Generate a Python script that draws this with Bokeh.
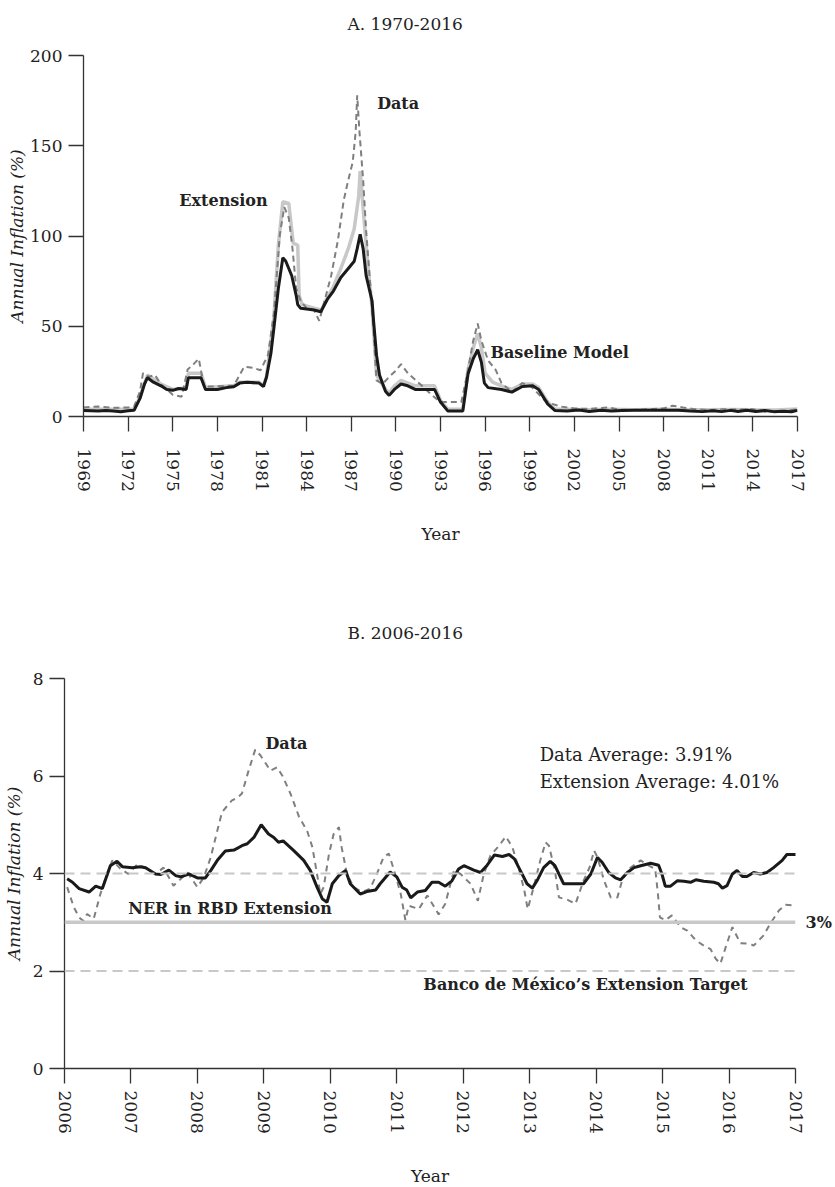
import numpy as np
from bokeh.plotting import figure
from bokeh.models import Label, Span, FixedTicker, Range1d, LinearAxis, Title
from bokeh.embed import file_html
from bokeh.resources import INLINE

FONT = "DejaVu Serif"
TXT = "#222222"
AXC = "#333333"
BLACK = "#1a1a1a"
LIGHT = "#c8c8c8"
DASHC = "#7f7f7f"

# ---------------- Panel A data (1970-2016) ----------------
a_ticks_x = [1969, 1972, 1975, 1978, 1981, 1984, 1987, 1990, 1993, 1996, 1999, 2002, 2005, 2008, 2011, 2014, 2017]
a_ticks_y = [0, 50, 100, 150, 200]

base_t = [1969.0, 1970.0, 1970.5, 1971.0, 1971.5, 1972.0, 1972.4, 1972.8, 1973.1, 1973.3, 1973.7, 1974.2,
          1974.6, 1975.0, 1975.4, 1975.9, 1976.05, 1976.9, 1977.2, 1978.0, 1978.6, 1979.1, 1979.5, 1980.0,
          1980.8, 1981.1, 1981.3, 1981.6, 1981.8, 1982.1, 1982.4, 1982.6, 1983.0, 1983.3, 1983.4, 1983.6,
          1984.0, 1984.5, 1984.95, 1985.4, 1985.8, 1986.3, 1986.8, 1987.2, 1987.4, 1987.6, 1987.8, 1988.0,
          1988.4, 1988.5, 1988.7, 1988.9, 1989.3, 1989.55, 1989.9, 1990.35, 1990.8, 1991.3, 1992.6, 1993.0,
          1993.5, 1994.5, 1994.85, 1995.2, 1995.5, 1995.75, 1995.95, 1996.2, 1997.1, 1997.8, 1998.5, 1999.2,
          1999.6, 2000.2, 2000.7, 2001.5, 2002.3, 2003.0, 2003.8, 2004.5, 2005.2, 2006.0, 2007.0, 2008.0,
          2009.0, 2009.8, 2010.6, 2011.3, 2011.9, 2012.5, 2013.0, 2013.6, 2014.2, 2014.8, 2015.4, 2016.0,
          2016.6, 2017.0]
base_v = [3.3, 3.0, 3.3, 3.0, 2.6, 3.2, 3.4, 10, 18, 21.5, 19, 17,
          15, 14.5, 15.5, 15, 21.5, 21.5, 15, 15, 16, 16.5, 18.5, 19,
          18.5, 16.6, 21.7, 35, 49, 71, 88, 86, 78, 67, 62, 60,
          59.5, 59, 58, 65, 69.5, 77, 82, 86, 93, 101, 93, 78,
          64, 53, 34, 23, 14, 11.7, 15, 18, 17, 15, 15, 8,
          3, 3, 23.5, 32, 37, 30, 18.5, 16, 15, 13.5, 16.6, 17,
          15, 7, 3.3, 3.0, 3.6, 2.8, 3.4, 3.0, 3.3, 3.5, 3.5, 3.5,
          3.5, 3.0, 2.7, 3.2, 2.7, 3.4, 2.8, 3.5, 2.8, 3.3, 2.7, 2.9,
          2.6, 3.4]

ext_t = [1969.0, 1972.4, 1972.8, 1973.3, 1974.2, 1975.0, 1975.9, 1976.05, 1976.9, 1977.2, 1979.1, 1979.5,
         1980.8, 1981.1, 1981.3, 1981.8, 1982.1, 1982.4, 1982.8, 1983.1, 1983.4, 1983.5, 1983.7, 1984.5,
         1985.0, 1985.4, 1985.8, 1986.3, 1986.8, 1987.2, 1987.5, 1987.6, 1987.8, 1988.1, 1988.4, 1988.7,
         1989.3, 1989.55, 1989.9, 1990.35, 1991.3, 1992.6, 1993.0, 1993.5, 1994.5, 1994.85, 1995.2, 1995.5,
         1995.75, 1996.0, 1996.5, 1997.1, 1997.8, 1998.5, 1999.2, 1999.6, 2000.2, 2000.7, 2001.5, 2003.0,
         2004.5, 2006.0, 2008.0, 2009.5, 2011.0, 2012.5, 2014.0, 2015.5, 2017.0]
ext_v = [4, 4, 11, 23, 18, 15, 16, 24, 24, 16, 17, 19,
         19, 17, 22, 55, 95, 119, 118, 96, 95, 67, 62, 60,
         59, 66, 72, 82, 93, 104, 122, 136, 115, 86, 60, 23,
         15, 13, 17, 20, 17, 17, 9, 4, 4, 26, 38, 46,
         38, 24, 19, 17, 15, 18, 18, 16, 8, 4, 4, 3.8,
         4, 3.8, 4, 3.7, 3.8, 3.9, 3.7, 3.6, 4.2]

data_t = [1969.0, 1970.0, 1971.0, 1972.0, 1972.4, 1972.8, 1973.0, 1973.4, 1973.8, 1974.2, 1975.0, 1975.6,
          1976.0, 1976.4, 1976.75, 1977.1, 1977.8, 1978.5, 1979.1, 1979.8, 1980.4, 1980.9, 1981.4, 1981.8,
          1982.2, 1982.5, 1982.8, 1983.05, 1983.3, 1983.6, 1984.0, 1984.5, 1984.85, 1985.2, 1985.65, 1986.1,
          1986.5, 1986.8, 1987.1, 1987.3, 1987.4, 1987.55, 1987.8, 1988.0, 1988.25, 1988.5, 1988.7, 1989.1,
          1989.55, 1989.9, 1990.35, 1990.8, 1991.7, 1992.4, 1993.0, 1994.4, 1994.8, 1995.2, 1995.5, 1995.75,
          1996.2, 1996.7, 1997.1, 1997.8, 1998.5, 1999.1, 2000.0, 2000.5, 2001.1, 2002.0, 2003.0, 2004.3,
          2005.0, 2006.0, 2007.0, 2008.0, 2008.6, 2009.3, 2010.0, 2011.0, 2012.0, 2013.0, 2014.0, 2015.0,
          2016.0, 2017.0]
data_v = [5, 5.5, 4.8, 5, 5.5, 14, 24, 22, 23, 18, 12, 11,
          26, 29, 32, 16.6, 16.6, 17, 17, 27.5, 27, 25.6, 34, 57,
          101, 116, 110, 93, 71, 64, 60, 59, 53, 64, 78, 97.5,
          120, 131, 141, 158, 178, 158, 131, 103, 76, 48, 20, 18,
          22, 24.6, 29, 24, 17.4, 12, 8, 8, 23.5, 42, 51.5, 42,
          31, 26, 18.5, 13.5, 18.5, 16.6, 9, 7, 5.5, 4.5, 4.2, 5,
          3.8, 3.6, 4.0, 4.5, 6.0, 5.0, 4.2, 3.5, 4.0, 3.8, 4.0, 2.5,
          3.0, 4.0]

# ---------------- Panel B data (2006-2016) ----------------
b_ticks_x = list(range(2006, 2018))
b_ticks_y = [0, 2, 4, 6, 8]
target_band = [2, 4]
target_center = 3
target_label = {3: "3%"}

bext_t = [2006.04, 2006.12, 2006.22, 2006.37, 2006.47, 2006.57, 2006.69, 2006.79, 2006.87, 2007.02, 2007.14,
          2007.22, 2007.37, 2007.45, 2007.57, 2007.67, 2007.75, 2007.87, 2008.0, 2008.12, 2008.2, 2008.3,
          2008.42, 2008.55, 2008.67, 2008.75, 2008.85, 2008.96, 2009.07, 2009.15, 2009.22, 2009.29, 2009.45,
          2009.6, 2009.7, 2009.8, 2009.88, 2009.95, 2010.03, 2010.13, 2010.23, 2010.3, 2010.45, 2010.55,
          2010.68, 2010.75, 2010.9, 2011.0, 2011.08, 2011.15, 2011.21, 2011.31, 2011.43, 2011.53, 2011.63,
          2011.73, 2011.83, 2011.93, 2012.01, 2012.16, 2012.26, 2012.36, 2012.47, 2012.59, 2012.69, 2012.77,
          2012.86, 2012.96, 2013.04, 2013.11, 2013.21, 2013.31, 2013.38, 2013.51, 2013.61, 2013.81, 2013.92,
          2014.02, 2014.09, 2014.19, 2014.29, 2014.37, 2014.47, 2014.57, 2014.67, 2014.82, 2014.94, 2014.99,
          2015.04, 2015.12, 2015.22, 2015.32, 2015.42, 2015.5, 2015.62, 2015.77, 2015.84, 2015.9, 2015.97,
          2016.05, 2016.12, 2016.2, 2016.27, 2016.37, 2016.47, 2016.57, 2016.67, 2016.8, 2016.87, 2017.05]
bext_v = [3.89, 3.82, 3.69, 3.62, 3.74, 3.69, 4.16, 4.25, 4.14, 4.12, 4.14,
          4.12, 3.99, 3.98, 4.07, 3.96, 3.93, 3.99, 3.91, 3.91, 4.06, 4.27,
          4.46, 4.48, 4.57, 4.61, 4.74, 5.0, 4.81, 4.74, 4.64, 4.67, 4.47,
          4.27, 4.06, 3.72, 3.48, 3.41, 3.79, 3.96, 4.06, 3.79, 3.58, 3.63,
          3.66, 3.79, 4.03, 3.93, 3.72, 3.66, 3.5, 3.62, 3.65, 3.82, 3.82,
          3.74, 3.85, 4.09, 4.16, 4.07, 4.02, 4.17, 4.38, 4.35, 4.39, 4.3,
          4.06, 3.79, 3.7, 3.85, 4.12, 4.25, 4.16, 3.79, 3.79, 3.79, 3.99,
          4.33, 4.23, 4.02, 3.91, 3.87, 4.02, 4.12, 4.16, 4.21, 4.17, 3.99,
          3.74, 3.74, 3.85, 3.84, 3.82, 3.87, 3.84, 3.82, 3.79, 3.7, 3.75,
          3.99, 4.06, 3.94, 3.94, 4.02, 3.99, 4.02, 4.12, 4.27, 4.39, 4.39]

bdat_t = [2006.04, 2006.14, 2006.22, 2006.28, 2006.34, 2006.44, 2006.54, 2006.64, 2006.72, 2006.84, 2006.96,
          2007.09, 2007.22, 2007.37, 2007.49, 2007.64, 2007.75, 2007.85, 2008.0, 2008.1, 2008.2, 2008.3,
          2008.37, 2008.52, 2008.6, 2008.67, 2008.77, 2008.87, 2008.95, 2009.1, 2009.2, 2009.28, 2009.4,
          2009.53, 2009.65, 2009.73, 2009.8, 2009.85, 2009.9, 2009.98, 2010.05, 2010.13, 2010.17, 2010.25,
          2010.35, 2010.48, 2010.6, 2010.7, 2010.8, 2010.88, 2010.96, 2011.06, 2011.13, 2011.18, 2011.33,
          2011.46, 2011.63, 2011.73, 2011.86, 2011.96, 2012.11, 2012.22, 2012.31, 2012.41, 2012.54, 2012.64,
          2012.74, 2012.84, 2012.92, 2012.97, 2013.06, 2013.16, 2013.24, 2013.29, 2013.38, 2013.44, 2013.57,
          2013.69, 2013.81, 2013.9, 2013.97, 2014.02, 2014.12, 2014.22, 2014.32, 2014.39, 2014.49, 2014.67,
          2014.77, 2014.89, 2014.93, 2014.96, 2015.04, 2015.14, 2015.27, 2015.37, 2015.5, 2015.62, 2015.72,
          2015.8, 2015.87, 2015.95, 2016.05, 2016.17, 2016.32, 2016.37, 2016.52, 2016.62, 2016.75, 2016.85,
          2017.05]
bdat_v = [3.72, 3.31, 3.1, 3.03, 3.17, 3.07, 3.58, 3.99, 4.27, 4.1, 3.99,
          4.18, 4.12, 3.99, 4.12, 3.75, 3.89, 4.02, 3.72, 3.93, 4.33, 4.88,
          5.26, 5.5, 5.55, 5.64, 6.11, 6.54, 6.42, 6.11, 6.18, 6.0, 5.64,
          5.16, 4.88, 4.54, 3.99, 3.58, 3.72, 4.4, 4.81, 4.95, 4.54, 3.99,
          3.72, 3.62, 3.69, 3.99, 4.33, 4.41, 4.06, 3.58, 3.04, 3.34, 3.27,
          3.55, 3.16, 3.38, 4.06, 3.99, 3.79, 3.44, 3.99, 4.37, 4.57, 4.76,
          4.54, 4.09, 3.65, 3.27, 3.72, 4.27, 4.64, 4.57, 4.06, 3.51, 3.46,
          3.38, 3.85, 4.12, 4.47, 4.33, 3.85, 3.51, 3.51, 3.85, 4.09, 4.27,
          4.18, 4.09, 3.58, 3.1, 3.04, 3.14, 2.9, 2.83, 2.63, 2.52, 2.45,
          2.25, 2.15, 2.49, 2.9, 2.57, 2.56, 2.52, 2.73, 2.97, 3.24, 3.36,
          3.34]


def style_title(t, offset, standoff):
    t.align = "left"
    t.offset = offset
    t.standoff = standoff
    t.text_font = FONT
    t.text_font_size = "17px"
    t.text_font_style = "normal"
    t.text_color = TXT


def style(p, xticks, yticks, x_standoff, xlab_standoff, ylab_standoff):
    p.xgrid.visible = False
    p.ygrid.visible = False
    p.outline_line_color = None
    p.background_fill_color = "white"
    p.border_fill_color = "white"
    p.xaxis.ticker = FixedTicker(ticks=xticks)
    p.yaxis.ticker = FixedTicker(ticks=yticks)
    for ax in (p.xaxis[0], p.yaxis[0]):
        ax.axis_line_color = AXC
        ax.axis_line_width = 1.3
        ax.major_tick_line_color = AXC
        ax.major_tick_line_width = 1.3
        ax.major_tick_out = 15
        ax.major_tick_in = 0
        ax.minor_tick_out = 0
        ax.minor_tick_in = 0
        ax.major_label_text_font = FONT
        ax.major_label_text_font_size = "17px"
        ax.major_label_text_color = TXT
        ax.axis_label_text_font = FONT
        ax.axis_label_text_font_size = "17px"
        ax.axis_label_text_color = TXT
    p.yaxis.major_label_standoff = 6
    p.xaxis.major_label_standoff = x_standoff
    p.xaxis.major_label_orientation = "vertical"
    p.xaxis.axis_label = "Year"
    p.xaxis.axis_label_text_font_style = "normal"
    p.xaxis.axis_label_standoff = xlab_standoff
    p.yaxis.axis_label = "Annual Inflation (%)"
    p.yaxis.axis_label_text_font_style = "italic"
    p.yaxis.axis_label_standoff = ylab_standoff


def lab(p, x, y, text, size="16px", style_="bold", align="left"):
    p.add_layout(Label(x=x, y=y, text=text, text_font=FONT, text_font_size=size,
                       text_font_style=style_, text_color=TXT, text_align=align,
                       text_baseline="middle"))


# ---------------- Panel A ----------------
p1 = figure(title=None, frame_width=714, frame_height=361,
            min_border_left=83, min_border_right=30, min_border_top=55, min_border_bottom=162,
            x_range=Range1d(1969, 2017), y_range=Range1d(0, 200),
            output_backend="svg", toolbar_location=None)
style(p1, a_ticks_x, a_ticks_y, 17, 29, 0)
# spacer (nearest the frame) then the panel title above it
spacer = Title(text=" ", text_font=FONT, text_font_size="4px", standoff=15)
p1.add_layout(spacer, "above")
title_a = Title(text="A. 1970-2016")
style_title(title_a, 264, 0)
p1.add_layout(title_a, "above")

p1.line(ext_t, ext_v, line_color=LIGHT, line_width=3.5)
p1.line(data_t, data_v, line_color=DASHC, line_width=2, line_dash="6 4")
p1.line(base_t, base_v, line_color=BLACK, line_width=3)

lab(p1, 1988.74, 173.6, "Data")
lab(p1, 1981.38, 119.7, "Extension", align="right")
lab(p1, 1996.36, 35.3, "Baseline Model")

# ---------------- Panel B ----------------
p2 = figure(title="B. 2006-2016", frame_width=731, frame_height=390,
            min_border_left=64, min_border_right=38, min_border_top=100, min_border_bottom=119,
            x_range=Range1d(2006, 2017), y_range=Range1d(0, 8),
            output_backend="svg", toolbar_location=None)
style(p2, b_ticks_x, b_ticks_y, 7, 29, 6)
style_title(p2.title, 283, 72)
for lv in target_band:
    p2.add_layout(Span(location=lv, dimension="width", line_color=LIGHT, line_width=2,
                       line_dash="10 6"))
p2.add_layout(Span(location=target_center, dimension="width", line_color=LIGHT, line_width=3.5))
p2.line(bdat_t, bdat_v, line_color=DASHC, line_width=2, line_dash="6 5")
p2.line(bext_t, bext_v, line_color=BLACK, line_width=3)

right_ax = LinearAxis(ticker=FixedTicker(ticks=list(target_label.keys())),
                      major_label_overrides=target_label,
                      axis_line_color=None, major_tick_line_color=None,
                      minor_tick_line_color=None, major_tick_out=0, major_tick_in=0,
                      major_label_standoff=10, major_label_text_font=FONT,
                      major_label_text_font_size="16px", major_label_text_font_style="bold",
                      major_label_text_color=TXT)
p2.add_layout(right_ax, "right")

lab(p2, 2009.34, 6.67, "Data", align="center")
lab(p2, 2013.15, 6.44, "Data Average: 3.91%", size="18px", style_="normal")
lab(p2, 2013.15, 5.88, "Extension Average: 4.01%", size="18px", style_="normal")
lab(p2, 2006.96, 3.28, "NER in RBD Extension")
lab(p2, 2011.4, 1.73, "Banco de México’s Extension Target")

open("out.html", "w").write(file_html([p1, p2], INLINE))
